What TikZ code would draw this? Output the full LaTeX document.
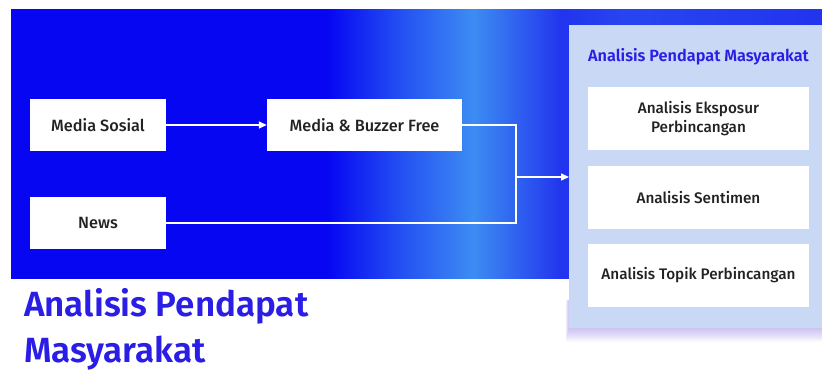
\documentclass[tikz,border=0pt]{standalone}
\usepackage{fontspec}
\setmainfont{Fira Sans}
\newfontfamily\medfont{Fira Sans Medium}
\newfontfamily\semifont{Fira Sans SemiBold}
\usetikzlibrary{arrows.meta,calc}
\definecolor{bgblue}{HTML}{0606F2}
\definecolor{lightband}{HTML}{3C8CF2}
\definecolor{deepblue}{HTML}{2234EE}
\definecolor{panelblue}{HTML}{C9D8F4}
\definecolor{titleblue}{HTML}{2A1EE6}
\definecolor{boxtext}{HTML}{222222}
\definecolor{glow}{HTML}{9E8CF0}
\pgfdeclarehorizontalshading{bgshade}{100bp}{%
  color(0bp)=(bgblue); color(25bp)=(bgblue); color(44.5bp)=(bgblue);
  color(49bp)=(bgblue!45!lightband); color(53.5bp)=(lightband);
  color(59bp)=(deepblue); color(63bp)=(deepblue!80!lightband);
  color(75bp)=(deepblue); color(100bp)=(deepblue)}
\tikzset{
  srcbox/.style={draw=none,fill=white,minimum width=136pt,minimum height=52pt,inner sep=0pt,
     font=\medfont\fontsize{16.3}{18}\selectfont,text=boxtext},
  resbox/.style={draw=none,fill=white,minimum width=221pt,minimum height=63pt,inner sep=0pt,
     font=\medfont\fontsize{15.3}{19}\selectfont,text=boxtext,align=center},
  flow/.style={draw=white,line width=1.5pt},
  flowarrow/.style={flow,-{Triangle[length=8pt,width=7pt]}}
}
\begin{document}
\begin{tikzpicture}[x=1pt,y=-1pt]
\useasboundingbox (0,0) rectangle (822,370);
\fill[white] (0,0) rectangle (822,370);
% blue background with gradient
\shade[shading=bgshade] (11,9) rectangle (822,278);
% panel glow
\foreach \i in {1,...,14}{
  \fill[glow,opacity=0.045] (569-\i*0.25,300) rectangle (822,328+\i*1.0);
}
% panel
\node[fill=panelblue,minimum width=260pt,minimum height=303pt,inner sep=0pt,anchor=north west] (panel) at (569,25) {};
\node[font=\semifont\fontsize{16.3}{18}\selectfont,text=titleblue] (ptitle) at (698.5,57) {Analisis Pendapat Masyarakat};
\node[resbox] (r1) at (698.5,118.5) {Analisis Eksposur\\Perbincangan};
\node[resbox] (r2) at (698.5,197.5) {Analisis Sentimen};
\node[resbox] (r3) at (698.5,275) {Analisis Topik Perbincangan};
% sources
\node[srcbox] (ms) at (98,125) {Media Sosial};
\node[srcbox,minimum width=195pt] (mb) at (364.5,125) {Media \& Buzzer Free};
\node[srcbox] (news) at (98,223) {News};
\coordinate (j) at (516,177);
\draw[flowarrow] (ms) -- (mb);
\draw[flow] (mb.east) -| (j);
\draw[flow] (news.east) -| (j);
\draw[flowarrow] (j) -- (j -| panel.west);
% big title
\node[anchor=north west,align=left,inner sep=0pt,text=titleblue,
  font=\semifont\fontsize{35}{46}\selectfont] (bigtitle) at (24,288) {Analisis Pendapat\\Masyarakat};
\end{tikzpicture}
\end{document}
